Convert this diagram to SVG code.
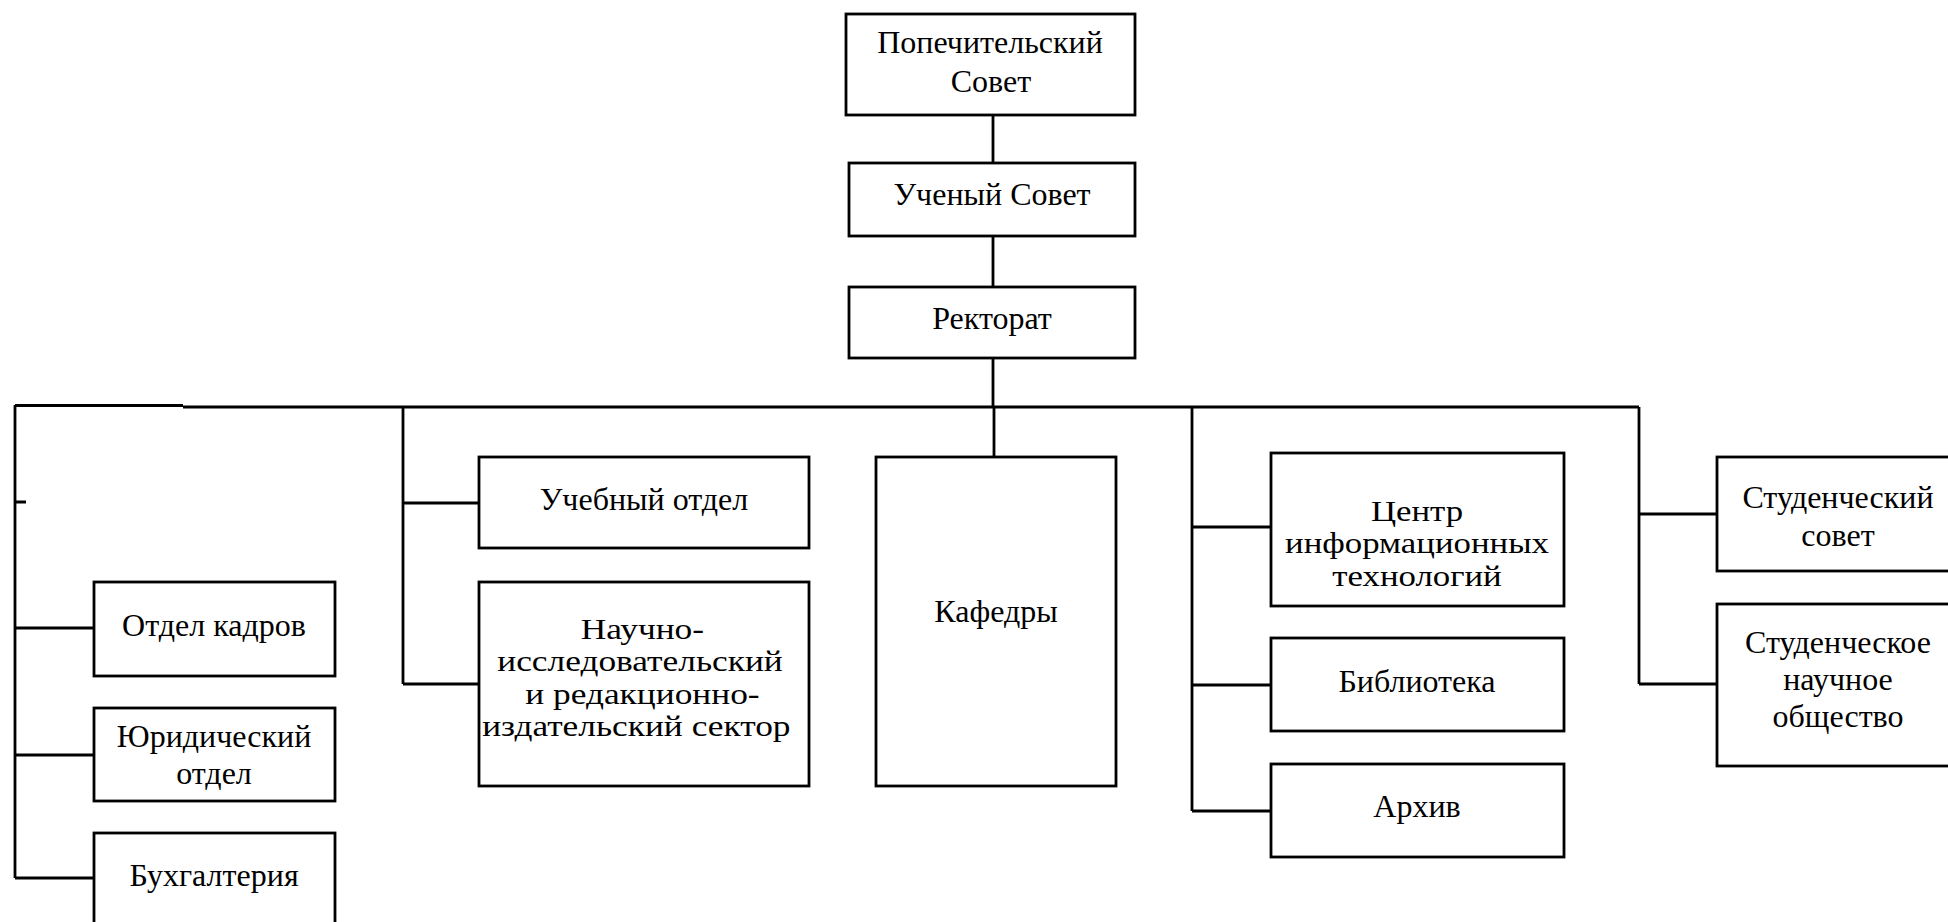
<svg xmlns="http://www.w3.org/2000/svg" width="1948" height="922" viewBox="0 0 1948 922">
<style>
.box{fill:#fff;stroke:#000;stroke-width:2.8}
.ln{stroke:#000;stroke-width:2.8;fill:none}
text{font-family:"Liberation Serif","Times New Roman",serif;font-size:32px;fill:#000;text-anchor:middle}
.tight text{font-size:29px}
</style>
<rect width="1948" height="922" fill="#fff"/>
<g id="connectors">
<path class="ln" d="M993 115V163M993 236V287M993 358V407"/>
<path class="ln" d="M15 405.5H183M183 407H1639"/>
<path class="ln" d="M15 405V878M15 502H26M15 628H94M15 755H94M15 878H94"/>
<path class="ln" d="M403 407V684M403 503H479M403 684H479"/>
<path class="ln" d="M994 407V457"/>
<path class="ln" d="M1192 407V811M1192 527H1271M1192 685H1271M1192 811H1271"/>
<path class="ln" d="M1639 407V684M1639 514H1717M1639 684H1717"/>
</g>
<g id="popech"><rect class="box" x="846" y="14" width="289" height="101"/><text x="990" y="53">Попечительский</text><text x="991" y="92">Совет</text></g>
<g id="uchsovet"><rect class="box" x="849" y="163" width="286" height="73"/><text x="992" y="205">Ученый Совет</text></g>
<g id="rektorat"><rect class="box" x="849" y="287" width="286" height="71"/><text x="992" y="329">Ректорат</text></g>
<g id="kadry"><rect class="box" x="94" y="582" width="241" height="94"/><text x="214" y="636">Отдел кадров</text></g>
<g id="yurid"><rect class="box" x="94" y="708" width="241" height="93"/><text x="214" y="747">Юридический</text><text x="214" y="784">отдел</text></g>
<g id="buhg"><rect class="box" x="94" y="833" width="241" height="93"/><text x="214" y="886">Бухгалтерия</text></g>
<g id="ucheb"><rect class="box" x="479" y="457" width="330" height="91"/><text x="644" y="510">Учебный отдел</text></g>
<g id="nauch"><rect class="box" x="479" y="582" width="330" height="204"/>
<g class="tight" transform="translate(640 0) scale(1.22 1) translate(-640 0)"><text x="642" y="639">Научно-</text><text x="640" y="671.5">исследовательский</text><text x="642" y="704">и редакционно-</text><text x="637" y="736.5">издательский сектор</text></g></g>
<g id="kafedry"><rect class="box" x="876" y="457" width="240" height="329"/><text x="996" y="622">Кафедры</text></g>
<g id="centr"><rect class="box" x="1271" y="453" width="293" height="153"/>
<g class="tight" transform="translate(1417 0) scale(1.2 1) translate(-1417 0)"><text x="1417" y="521">Центр</text><text x="1417" y="553.5">информационных</text><text x="1417" y="586">технологий</text></g></g>
<g id="bibl"><rect class="box" x="1271" y="638" width="293" height="93"/><text x="1417" y="692">Библиотека</text></g>
<g id="arhiv"><rect class="box" x="1271" y="764" width="293" height="93"/><text x="1417" y="817">Архив</text></g>
<g id="studsovet"><rect class="box" x="1717" y="457" width="242" height="114"/><text x="1838" y="508">Студенческий</text><text x="1838" y="546">совет</text></g>
<g id="studnauch"><rect class="box" x="1717" y="604" width="242" height="162"/><text x="1838" y="653">Студенческое</text><text x="1838" y="690">научное</text><text x="1838" y="727">общество</text></g>
</svg>
